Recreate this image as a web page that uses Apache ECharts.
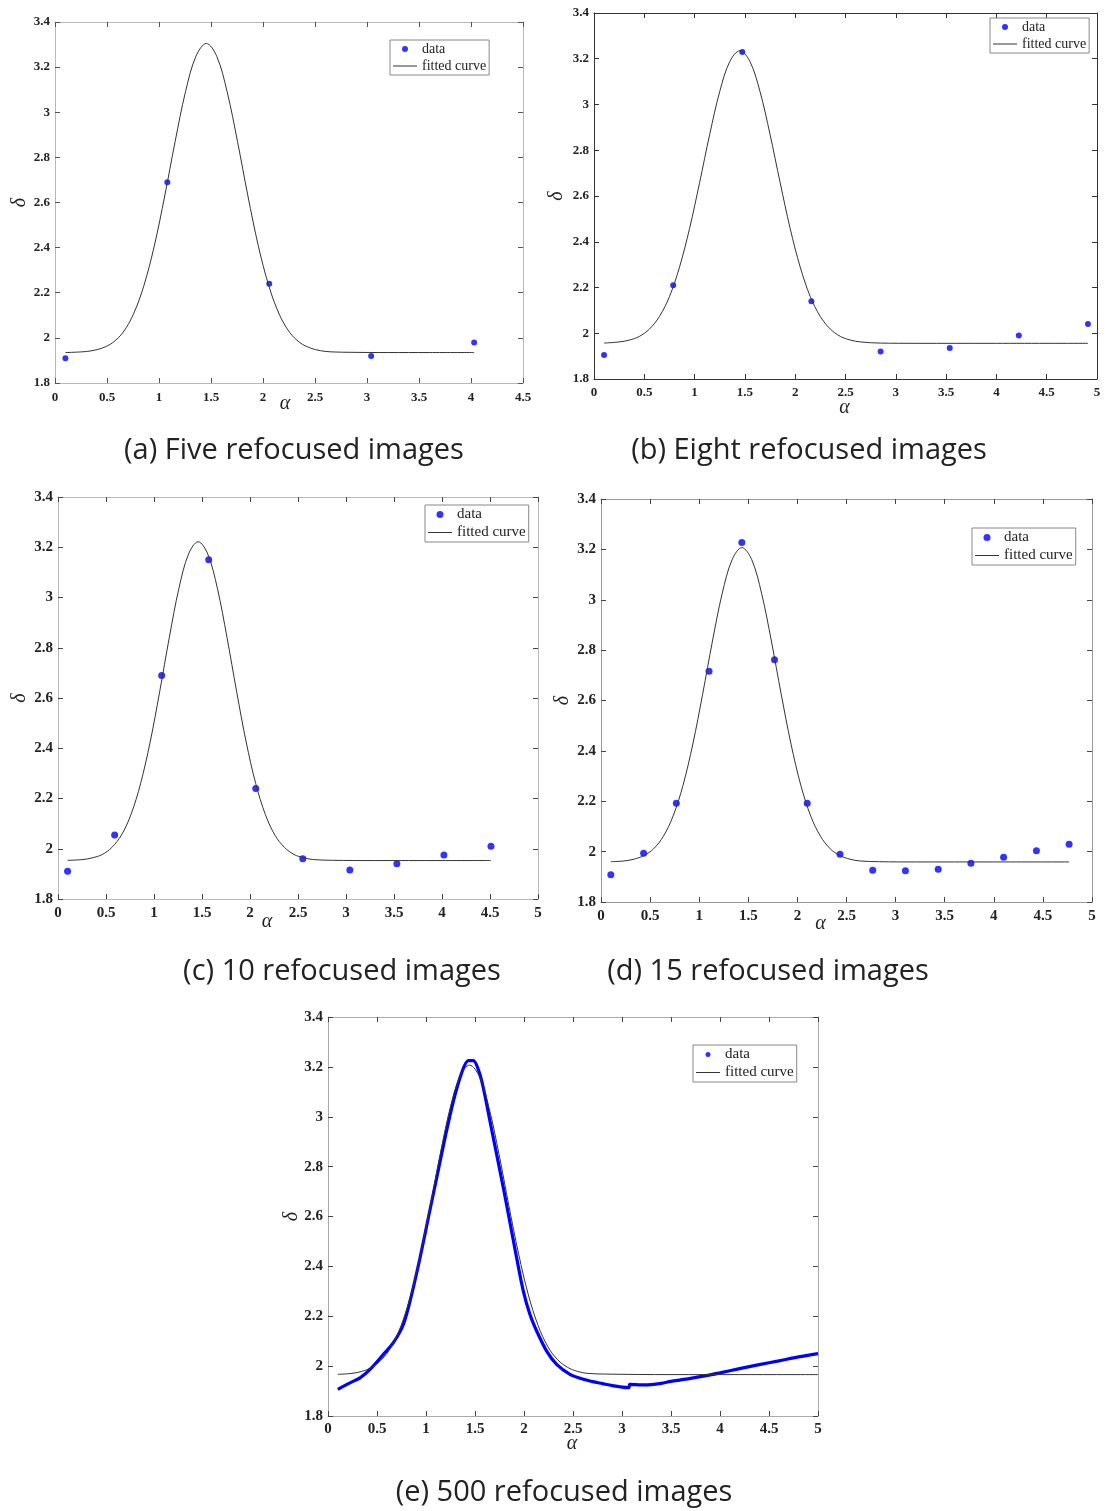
<!DOCTYPE html>
<html>
<head>
<meta charset="utf-8">
<script src="https://cdn.jsdelivr.net/npm/echarts@6/dist/echarts.min.js"></script>
<style>
html, body { margin: 0; padding: 0; background: #ffffff; }
#c { width: 1115px; height: 1511px; }
</style>
</head>
<body>
<div id="c"></div>
<script>
// (a) Five refocused images
const aDataX = [0.1, 1.08, 2.06, 3.04, 4.03];
const aDataY = [1.91, 2.69, 2.24, 1.92, 1.98];
const aFitX = [0.1, 0.255, 0.355, 0.455, 0.555, 0.655, 0.755, 0.855, 0.955, 1.055, 1.155, 1.255, 1.355, 1.455, 1.555, 1.655, 1.755, 1.855, 1.955, 2.055, 2.155, 2.255, 2.355, 2.455, 2.555, 2.655, 2.855, 3.2, 3.6, 4.03];
const aFitY = [1.935, 1.938, 1.943, 1.955, 1.979, 2.025, 2.106, 2.232, 2.408, 2.629, 2.870, 3.091, 3.248, 3.305, 3.248, 3.091, 2.870, 2.629, 2.408, 2.232, 2.106, 2.025, 1.979, 1.955, 1.943, 1.938, 1.936, 1.935, 1.935, 1.935];

// (b) Eight refocused images
const bDataX = [0.1, 0.787, 1.474, 2.161, 2.849, 3.536, 4.223, 4.91];
const bDataY = [1.905, 2.21, 3.23, 2.14, 1.92, 1.935, 1.99, 2.04];
const bFitX = [0.1, 0.25, 0.35, 0.45, 0.55, 0.65, 0.75, 0.85, 0.95, 1.05, 1.15, 1.25, 1.35, 1.45, 1.55, 1.65, 1.75, 1.85, 1.95, 2.05, 2.15, 2.25, 2.35, 2.45, 2.55, 2.65, 2.85, 3.2, 4.0, 4.91];
const bFitY = [1.957, 1.962, 1.970, 1.986, 2.018, 2.073, 2.160, 2.289, 2.458, 2.659, 2.869, 3.057, 3.188, 3.235, 3.188, 3.057, 2.869, 2.659, 2.458, 2.289, 2.160, 2.073, 2.018, 1.986, 1.970, 1.962, 1.957, 1.956, 1.956, 1.956];

// (c) 10 refocused images
const cDataX = [0.1, 0.59, 1.08, 1.57, 2.06, 2.55, 3.04, 3.53, 4.02, 4.51];
const cDataY = [1.91, 2.055, 2.69, 3.15, 2.24, 1.96, 1.915, 1.94, 1.975, 2.01];
const cFitX = [0.1, 0.26, 0.36, 0.46, 0.56, 0.66, 0.76, 0.86, 0.96, 1.06, 1.16, 1.26, 1.36, 1.46, 1.56, 1.66, 1.76, 1.86, 1.96, 2.06, 2.16, 2.26, 2.36, 2.46, 2.56, 2.66, 2.86, 3.3, 4.0, 4.51];
const cFitY = [1.954, 1.957, 1.964, 1.977, 2.005, 2.054, 2.136, 2.259, 2.425, 2.627, 2.842, 3.037, 3.173, 3.222, 3.173, 3.037, 2.842, 2.627, 2.425, 2.259, 2.136, 2.054, 2.005, 1.977, 1.964, 1.957, 1.954, 1.953, 1.953, 1.953];

// (d) 15 refocused images
const dDataX = [0.1, 0.434, 0.767, 1.1, 1.434, 1.767, 2.1, 2.434, 2.767, 3.1, 3.434, 3.767, 4.1, 4.434, 4.767];
const dDataY = [1.908, 1.994, 2.192, 2.716, 3.227, 2.762, 2.192, 1.99, 1.926, 1.924, 1.93, 1.954, 1.978, 2.003, 2.029];
const dFitX = [0.1, 0.235, 0.335, 0.435, 0.535, 0.635, 0.735, 0.835, 0.935, 1.035, 1.135, 1.235, 1.335, 1.435, 1.535, 1.635, 1.735, 1.835, 1.935, 2.035, 2.135, 2.235, 2.335, 2.435, 2.535, 2.635, 2.835, 3.2, 4.0, 4.767];
const dFitY = [1.960, 1.963, 1.970, 1.984, 2.011, 2.061, 2.142, 2.263, 2.427, 2.625, 2.836, 3.026, 3.159, 3.207, 3.159, 3.026, 2.836, 2.625, 2.427, 2.263, 2.142, 2.061, 2.011, 1.984, 1.970, 1.963, 1.960, 1.959, 1.959, 1.959];

// (e) 500 refocused images (dense data)
const eDataX = [0.1, 0.225, 0.327, 0.429, 0.565, 0.667, 0.769, 0.854, 0.939, 1.024, 1.109, 1.194, 1.279, 1.364, 1.432, 1.483, 1.534, 1.585, 1.653, 1.721, 1.789, 1.857, 1.925, 1.993, 2.061, 2.129, 2.231, 2.333, 2.469, 2.605, 2.7, 2.8, 2.9, 3.0, 3.07, 3.08, 3.2, 3.3, 3.4, 3.5, 3.6, 3.7, 3.8, 3.9, 4.0, 4.2, 4.4, 4.6, 4.8, 5.0];
const eDataY = [1.907, 1.933, 1.953, 1.987, 2.047, 2.094, 2.167, 2.288, 2.434, 2.595, 2.755, 2.915, 3.062, 3.176, 3.225, 3.225, 3.189, 3.116, 2.982, 2.849, 2.715, 2.575, 2.434, 2.301, 2.207, 2.141, 2.060, 2.007, 1.967, 1.947, 1.938, 1.93, 1.922, 1.916, 1.914, 1.927, 1.925, 1.926, 1.931, 1.939, 1.945, 1.951, 1.958, 1.965, 1.973, 1.99, 2.006, 2.021, 2.037, 2.05];
const eFitX = [0.1, 0.245, 0.345, 0.445, 0.545, 0.645, 0.745, 0.845, 0.945, 1.045, 1.145, 1.245, 1.345, 1.445, 1.545, 1.645, 1.745, 1.845, 1.945, 2.045, 2.145, 2.245, 2.345, 2.445, 2.545, 2.645, 2.845, 3.5, 4.2, 5.0];
const eFitY = [1.967, 1.971, 1.979, 1.995, 2.025, 2.077, 2.162, 2.285, 2.450, 2.645, 2.850, 3.033, 3.161, 3.207, 3.161, 3.033, 2.850, 2.645, 2.450, 2.285, 2.162, 2.077, 2.025, 1.995, 1.979, 1.971, 1.968, 1.966, 1.966, 1.966];

// axis ticks
const yMin = 1.8, yMax = 3.4, yStep = 0.2, xStep = 0.5;
const captions = ['(a) Five refocused images', '(b) Eight refocused images', '(c) 10 refocused images', '(d) 15 refocused images', '(e) 500 refocused images'];

const zip = (xs, ys) => xs.map((x, i) => [x, ys[i]]);

const panels = [
  { data: zip(aDataX, aDataY), fit: zip(aFitX, aFitY), dense: false, xMax: 4.5,
    grid: { left: 55, top: 22, width: 468, height: 361 }, fs: 13, axis: '#b8b8b8', tick: '#555',
    xGap: 11, xPad: 8, xMargin: 8, yGap: 25, sym: 6,
    legend: { left: 390, top: 40, fs: 14, ih: 6 }, cap: { x: 294, y: 451 } },
  { data: zip(bDataX, bDataY), fit: zip(bFitX, bFitY), dense: false, xMax: 5,
    grid: { left: 594, top: 13, width: 503, height: 366 }, fs: 13, axis: '#333', tick: '#333',
    xGap: 19, xPad: 2, xMargin: 7, yGap: 27, sym: 6,
    legend: { left: 990, top: 18, fs: 14, ih: 6 }, cap: { x: 809, y: 451 } },
  { data: zip(cDataX, cDataY), fit: zip(cFitX, cFitY), dense: false, xMax: 5,
    grid: { left: 58, top: 497, width: 480, height: 402 }, fs: 15, axis: '#b8b8b8', tick: '#444',
    xGap: 13, xPad: 62, xMargin: 7, yGap: 28, sym: 7,
    legend: { left: 425, top: 505, fs: 15, ih: 7 }, cap: { x: 342, y: 972 } },
  { data: zip(dDataX, dDataY), fit: zip(dFitX, dFitY), dense: false, xMax: 5,
    grid: { left: 601, top: 499, width: 491, height: 403 }, fs: 15, axis: '#999', tick: '#444',
    xGap: 12, xPad: 52, xMargin: 7, yGap: 28, sym: 7,
    legend: { left: 972, top: 528, fs: 15, ih: 7 }, cap: { x: 768, y: 972 } },
  { data: zip(eDataX, eDataY), fit: zip(eFitX, eFitY), dense: true, xMax: 5,
    grid: { left: 328, top: 1017, width: 490, height: 399 }, fs: 15, axis: '#aaa', tick: '#444',
    xGap: 18, xPad: 2, xMargin: 6, yGap: 26, sym: 4,
    legend: { left: 693, top: 1045, fs: 15, ih: 5 }, cap: { x: 564, y: 1493 } }
];

const option = {
  animation: false,
  backgroundColor: '#ffffff',
  grid: [], xAxis: [], yAxis: [], series: [], legend: [], graphic: []
};

panels.forEach((p, i) => {
  option.grid.push(Object.assign({ containLabel: false }, p.grid));
  const lineStyle = { color: p.axis, width: 1 };
  const tick = { show: true, inside: true, length: 5, lineStyle: { color: p.tick, width: 1 } };
  const label = { fontFamily: 'Liberation Serif', fontWeight: 'bold', fontSize: p.fs, color: '#222' };
  option.xAxis.push({
    type: 'value', gridIndex: i, position: 'bottom', min: 0, max: p.xMax, interval: xStep,
    axisLine: { show: true, onZero: false, lineStyle }, axisTick: tick,
    axisLabel: Object.assign({ margin: p.xMargin }, label), splitLine: { show: false },
    name: 'α', nameLocation: 'middle', nameGap: p.xGap, nameMoveOverlap: false,
    nameTextStyle: { fontFamily: 'Liberation Serif', fontStyle: 'italic', fontSize: 20, color: '#222', padding: [0, p.xPad, 0, 0] }
  });
  option.xAxis.push({
    type: 'value', gridIndex: i, position: 'top', min: 0, max: p.xMax, interval: xStep,
    axisLine: { show: true, onZero: false, lineStyle }, axisTick: tick,
    axisLabel: { show: false }, splitLine: { show: false }
  });
  option.yAxis.push({
    type: 'value', gridIndex: i, position: 'left', min: yMin, max: yMax, interval: yStep,
    axisLine: { show: true, onZero: false, lineStyle }, axisTick: tick,
    axisLabel: Object.assign({ margin: 5 }, label), splitLine: { show: false },
    name: 'δ', nameLocation: 'middle', nameGap: p.yGap, nameMoveOverlap: false,
    nameTextStyle: { fontFamily: 'Liberation Serif', fontStyle: 'italic', fontSize: 20, color: '#222' }
  });
  option.yAxis.push({
    type: 'value', gridIndex: i, position: 'right', min: yMin, max: yMax, interval: yStep,
    axisLine: { show: true, onZero: false, lineStyle }, axisTick: tick,
    axisLabel: { show: false }, splitLine: { show: false }
  });
  const xi = 2 * i, yi = 2 * i;
  if (p.dense) {
    option.series.push({
      name: 'data', type: 'line', xAxisIndex: xi, yAxisIndex: yi, data: p.data,
      symbol: 'none', smooth: 0.3, z: 2,
      itemStyle: { color: '#0000ff' }, lineStyle: { color: '#0000ff', width: 3.2 }
    });
  } else {
    option.series.push({
      name: 'data', type: 'scatter', xAxisIndex: xi, yAxisIndex: yi, data: p.data,
      symbol: 'circle', symbolSize: p.sym, z: 3,
      itemStyle: { color: '#0000ff' }
    });
  }
  option.series.push({
    name: 'fitted curve', type: 'line', xAxisIndex: xi, yAxisIndex: yi, data: p.fit,
    symbol: 'none', smooth: 0.35, z: 4,
    itemStyle: { color: '#333' }, lineStyle: { color: '#333', width: 1 }
  });
  option.legend.push({
    orient: 'vertical', left: p.legend.left, top: p.legend.top, align: 'left',
    data: [{ name: 'data', icon: 'circle' }, { name: 'fitted curve', icon: 'path://M0,0L24,0L24,1L0,1Z' }],
    itemWidth: 24, itemHeight: p.legend.ih, itemGap: 3, padding: [2, 3, 2, 3],
    borderColor: '#888', borderWidth: 1, selectedMode: false,
    textStyle: { fontFamily: 'Liberation Serif', fontSize: p.legend.fs, color: '#222' }
  });
  option.graphic.push({
    type: 'text', x: p.cap.x, y: p.cap.y,
    style: { text: captions[i], font: '29px "Open Sans"', fill: '#222',
             align: 'center', verticalAlign: 'middle', textAlign: 'center', textVerticalAlign: 'middle' }
  });
});

const chart = echarts.init(document.getElementById('c'), null, { renderer: 'canvas' });
chart.setOption(option);
</script>
</body>
</html>
